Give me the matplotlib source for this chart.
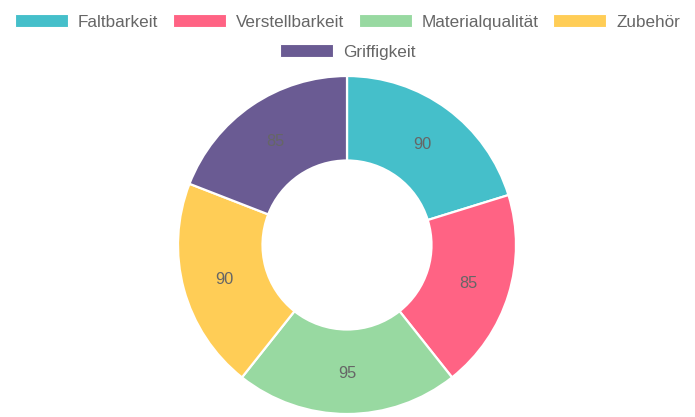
import matplotlib.pyplot as plt
from matplotlib.patches import Patch

categories = ['Faltbarkeit', 'Verstellbarkeit', 'Materialqualität', 'Zubehör', 'Griffigkeit']
values = [90, 85, 95, 90, 85]
colors = ['#45BFCA', '#FF6384', '#98D9A1', '#FFCD56', '#6A5B93']

plt.rcParams['font.family'] = ['Liberation Sans', 'DejaVu Sans']
text_color = '#666666'

fig = plt.figure(figsize=(6.95, 4.17), dpi=100)
W, H = 695, 417
cx, cy, r = 347, 245, 169
ax = fig.add_axes([(cx - r) / W, (H - cy - r) / H, 2 * r / W, 2 * r / H])

wedges, texts = ax.pie(values, colors=colors, startangle=90, counterclock=False,
                       radius=1.0, labels=[str(v) for v in values], labeldistance=0.75,
                       wedgeprops=dict(width=0.5, edgecolor='white', linewidth=1.6),
                       textprops=dict(color=text_color, fontsize=11.8, ha='center',
                                      va='center_baseline'))
ax.set_xlim(-1, 1)
ax.set_ylim(-1, 1)
ax.axis('off')

# legend: 4 items on first row, 1 centered on second (chart.js style)
handles = [Patch(facecolor=c, edgecolor='white', linewidth=0.8) for c in colors]
leg_kw = dict(frameon=False, fontsize=12.3, handlelength=3.1, handleheight=0.75,
              handletextpad=0.6, columnspacing=0.85, labelcolor=text_color,
              loc='center', borderaxespad=0, borderpad=0)
fig.legend(handles[:4], categories[:4], ncol=4,
           bbox_to_anchor=(0.5, 1 - 22 / H), **leg_kw)
fig.legend(handles[4:], categories[4:], ncol=1,
           bbox_to_anchor=(0.5, 1 - 52 / H), **leg_kw)

fig.savefig('out.png', dpi=100)
